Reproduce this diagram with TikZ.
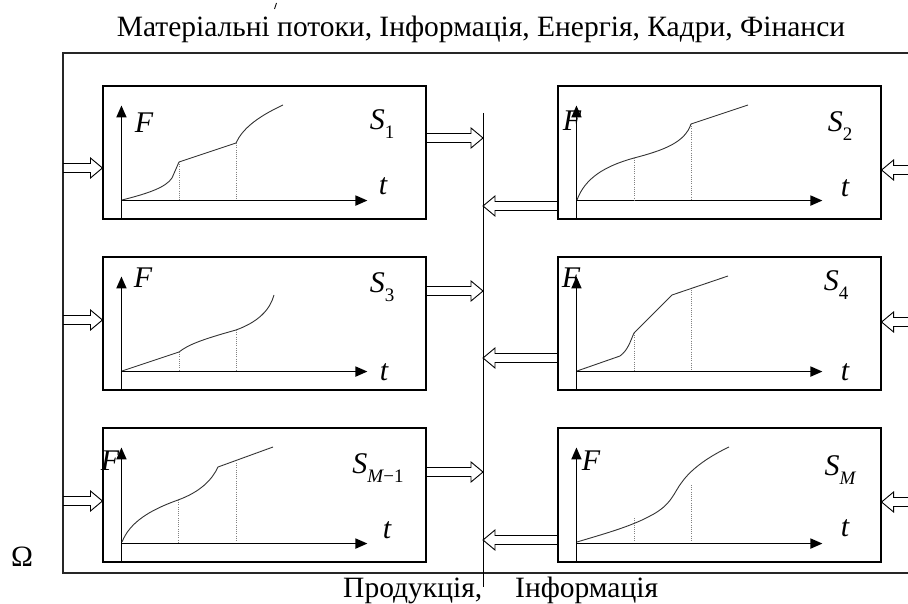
\documentclass[tikz,border=0pt]{standalone}
\usepackage{fontspec}
\setmainfont{Liberation Serif}
\usetikzlibrary{arrows.meta,calc}
\newcommand\lowidx[1]{\raisebox{-0.32em}{\fontsize{19}{19}\selectfont\upshape #1}}
\tikzset{
  box/.style={draw, line width=1.1pt, minimum width=323pt, minimum height=133pt, inner sep=0pt},
  axisline/.style={line width=1.8pt, -{Triangle[length=12pt,width=10pt]}},
  curve/.style={line width=0.9pt, black!80},
  guide/.style={line width=0.6pt, black!50, dash pattern=on 1pt off 1.2pt},
  frameline/.style={line width=1.2pt, black!85},
  fatR/.style={line width=0.9pt, to path={let \p1=(\tikztostart), \p2=(\tikztotarget) in
     (\x1,\y1+4.5pt) -- (\x2-12pt,\y1+4.5pt) -- (\x2-12pt,\y1+10pt) -- (\x2,\y1)
     -- (\x2-12pt,\y1-10pt) -- (\x2-12pt,\y1-4.5pt) -- (\x1,\y1-4.5pt)}},
  fatL/.style={line width=0.9pt, to path={let \p1=(\tikztostart), \p2=(\tikztotarget) in
     (\x1,\y1+4.5pt) -- (\x2+12pt,\y1+4.5pt) -- (\x2+12pt,\y1+10pt) -- (\x2,\y1)
     -- (\x2+12pt,\y1-10pt) -- (\x2+12pt,\y1-4.5pt) -- (\x1,\y1-4.5pt)}},
  lbl/.style={font=\fontsize{30}{30}\selectfont\itshape, inner sep=0pt},
  txt/.style={font=\fontsize{29.5}{29.5}\selectfont, inner sep=0pt},
}
\newcommand\plotaxes[1]{%
  \draw[axisline] ([xshift=19pt]#1.south west) -- ([xshift=19pt,yshift=-20pt]#1.north west);
  \draw[axisline] ([xshift=19pt,yshift=19pt]#1.south west) -- ([xshift=265pt,yshift=19pt]#1.south west);}
\begin{document}
\begin{tikzpicture}[x=1pt,y=-1pt]
\useasboundingbox (0,0) rectangle (908,604);

% outer frame and bus
\coordinate (fTR) at (908,53);
\coordinate (fTL) at (63,53);
\coordinate (fBL) at (63,573);
\coordinate (fBR) at (908,573);
\draw[frameline] (fTR) -- (fTL) -- (fBL) -- (fBR);
\coordinate (bustop) at (483,113);
\coordinate (busbot) at (483,587);
\draw[line width=1pt] (bustop) -- (busbot);

% texts
\node[txt, anchor=base] (title) at (481,37) {Матеріальні потоки, Інформація, Енергія, Кадри, Фінанси};
\draw[line width=0.8pt] (276.5,3) -- (274.5,9);
\node[txt, anchor=base west] (prod) at (343,597) {Продукція,};
\node[txt, anchor=base west] (info) at (515,597) {Інформація};
\node[txt] (omega) at (22,557) {Ω};

% boxes
\node[box] (s1) at (264.5,152.5) {};
\node[box] (s2) at (719.5,152.5) {};
\node[box] (s3) at (264.5,323.5) {};
\node[box] (s4) at (719.5,323.5) {};
\node[box, minimum height=134pt] (s5) at (264.5,495) {};
\node[box, minimum height=134pt] (s6) at (719.5,495) {};

\plotaxes{s1}\plotaxes{s2}\plotaxes{s3}\plotaxes{s4}\plotaxes{s5}\plotaxes{s6}

% S1 curve
\draw[curve] (122,200) .. controls (150,193) and (166,187) .. (172,178) .. controls (176,170) .. (179,162)
  -- (236,143) .. controls (242,130) and (255,118) .. (283,105);
\draw[guide] (179,162) -- (179,200);
\draw[guide] (236,143) -- (236,200);
% S2 curve
\draw[curve] (577,200) .. controls (585,178) and (605,166) .. (634,158) .. controls (665,150) and (685,142) .. (691,124) -- (748,105);
\draw[guide] (634,158) -- (634,200);
\draw[guide] (691,124) -- (691,200);
% S3 curve
\draw[curve] (122,371) -- (179,352) .. controls (188,345) and (200,340) .. (236,330) .. controls (258,322) and (270,310) .. (274,295);
\draw[guide] (179,352) -- (179,371);
\draw[guide] (236,330) -- (236,371);
% S4 curve
\draw[curve] (577,371) -- (620,356) .. controls (628,350) and (630,342) .. (634,333) -- (672,295) -- (728,276);
\draw[guide] (634,333) -- (634,371);
\draw[guide] (691,290) -- (691,371);
% S_{M-1} curve
\draw[curve] (122,542) .. controls (130,522) and (150,510) .. (178,500) .. controls (200,492) and (212,480) .. (218,467) -- (273,447);
\draw[guide] (178,500) -- (178,542);
\draw[guide] (236,463) -- (236,542);
% S_M curve
\draw[curve] (577,542) .. controls (600,535) and (630,527) .. (650,516) .. controls (672,505) and (674,492) .. (682,482) .. controls (692,468) and (710,456) .. (729,447);
\draw[guide] (634,518) -- (634,542);
\draw[guide] (691,485) -- (691,542);

% labels
\node[lbl] (f1) at (144,123) {F};
\node[lbl] (l1) at (382,124) {S\lowidx{1}};
\node[lbl] (t1) at (383,186) {t};
\node[lbl] (f2) at (572,121) {F};
\node[lbl] (l2) at (840,126) {S\lowidx{2}};
\node[lbl] (t2) at (845,188) {t};
\node[lbl] (f3) at (143,278) {F};
\node[lbl] (l3) at (382,287) {S\lowidx{3}};
\node[lbl] (t3) at (384,372) {t};
\node[lbl] (f4) at (571,278) {F};
\node[lbl] (l4) at (836,285) {S\lowidx{4}};
\node[lbl] (t4) at (845,372) {t};
\node[lbl] (f5) at (110,461) {F};
\node[lbl] (l5) at (378,468) {S\lowidx{\itshape M\upshape −1}};
\node[lbl] (t5) at (387,530) {t};
\node[lbl] (f6) at (591,461) {F};
\node[lbl] (l6) at (840,470) {S\lowidx{\itshape M}};
\node[lbl] (t6) at (845,528) {t};

% connection points
\coordinate (b1) at (483,138);
\coordinate (b3) at (483,291);
\coordinate (b5) at (483,472);
\coordinate (b2) at (483,206);
\coordinate (b4) at (483,358);
\coordinate (b6) at (483,540);
\coordinate (i1) at (63,168);
\coordinate (i3) at (63,320);
\coordinate (i5) at (63,501);
\coordinate (r2) at (908,170);
\coordinate (r4) at (908,322);
\coordinate (r6) at (908,502);

% arrows
\draw[fatR] (i1) to (s1.west |- i1);
\draw[fatR] (i3) to (s3.west |- i3);
\draw[fatR] (i5) to (s5.west |- i5);
\draw[fatR] (s1.east |- b1) to (b1);
\draw[fatR] (s3.east |- b3) to (b3);
\draw[fatR] (s5.east |- b5) to (b5);
\draw[fatL] (s2.west |- b2) to (b2);
\draw[fatL] (s4.west |- b4) to (b4);
\draw[fatL] (s6.west |- b6) to (b6);
\draw[fatL] (r2) to (s2.east |- r2);
\draw[fatL] (r4) to (s4.east |- r4);
\draw[fatL] (r6) to (s6.east |- r6);
\end{tikzpicture}
\end{document}
